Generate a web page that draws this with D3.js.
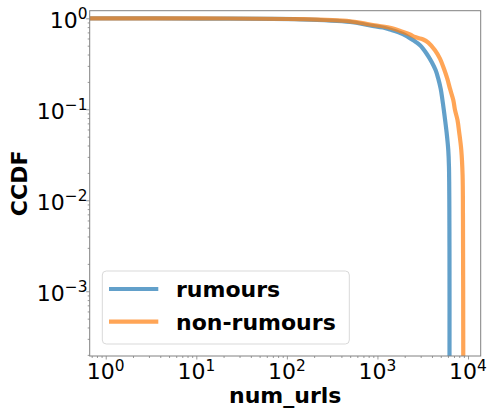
<!DOCTYPE html>
<html>
<head>
<meta charset="utf-8">
<script src="https://cdn.jsdelivr.net/npm/d3@7"></script>
<style>
  html, body { margin: 0; padding: 0; background: #fff; }
  svg { display: block; font-family: "DejaVu Sans", sans-serif; }
</style>
</head>
<body>
<svg id="chart" width="491" height="411"></svg>
<script>
// CCDF of the number of URLs, rumours vs non-rumours
const rumoursX = [0.67, 11, 140, 500, 830, 1150, 1375, 1910, 2490, 2950, 3495, 3969, 4395, 4694, 4989, 5195, 5495, 5812, 6053, 6162, 6241, 6245];
const rumoursY = [1.0, 0.992, 0.975, 0.913, 0.834, 0.792, 0.753, 0.672, 0.573, 0.505, 0.408, 0.331, 0.268, 0.217, 0.1684, 0.1307, 0.0866, 0.0549, 0.0357, 0.0232, 0.00284, 0.00015];

const nonRumoursX = [0.67, 11, 140, 500, 830, 1375, 1930, 2287, 2596, 2876, 3198, 3640, 4316, 4900, 5426, 5902, 6321, 6875, 7176, 7646, 8006, 8424, 8709, 8797, 8864];
const nonRumoursY = [1.0, 0.997, 0.980, 0.927, 0.855, 0.788, 0.707, 0.664, 0.623, 0.605, 0.585, 0.539, 0.445, 0.360, 0.279, 0.217, 0.1684, 0.1265, 0.0984, 0.0763, 0.0549, 0.0357, 0.0190, 0.00608, 0.00015];

const seriesNames = ["rumours", "non-rumours"];
const seriesColors = ["#1f77b4", "#ff7f0e"];
const xTickExps = [0, 1, 2, 3, 4];
const yTickExps = [-3, -2, -1, 0];
const xLabel = "num_urls";
const yLabel = "CCDF";

const svg = d3.select("#chart");
const plot = { left: 89.7, right: 480.7, top: 10.7, bottom: 356 };

const x = d3.scaleLog()
  .domain([Math.pow(10, -0.177), Math.pow(10, 4.14)])
  .range([plot.left, plot.right]);
const y = d3.scaleLog()
  .domain([Math.pow(10, -3.7115), Math.pow(10, 0.0835)])
  .range([plot.bottom, plot.top]);

const axisColor = "#808080";

// minor ticks at 2..9 x 10^k inside the domain
function minorTicks(scale) {
  const [a, b] = scale.domain();
  const out = [];
  for (let e = Math.floor(Math.log10(a)); e <= Math.ceil(Math.log10(b)); e++) {
    for (let m = 2; m <= 9; m++) {
      const v = m * Math.pow(10, e);
      if (v >= a && v <= b) out.push(v);
    }
  }
  return out;
}

const defs = svg.append("defs");
defs.append("clipPath").attr("id", "plotClip")
  .append("rect")
  .attr("x", plot.left).attr("y", plot.top)
  .attr("width", plot.right - plot.left).attr("height", plot.bottom - plot.top);

// axes ticks
const gx = svg.append("g").attr("transform", `translate(0,${plot.bottom})`);
gx.call(d3.axisBottom(x).tickValues(xTickExps.map(e => Math.pow(10, e))).tickSize(3.5).tickSizeOuter(0).tickFormat(""));
gx.call(g => g.append("g").call(d3.axisBottom(x).tickValues(minorTicks(x)).tickSize(2).tickSizeOuter(0).tickFormat("")));
const gy = svg.append("g").attr("transform", `translate(${plot.left},0)`);
gy.call(d3.axisLeft(y).tickValues(yTickExps.map(e => Math.pow(10, e))).tickSize(3.5).tickSizeOuter(0).tickFormat(""));
gy.call(g => g.append("g").call(d3.axisLeft(y).tickValues(minorTicks(y)).tickSize(2).tickSizeOuter(0).tickFormat("")));
svg.selectAll(".domain").remove();
svg.selectAll(".tick line").attr("stroke", axisColor).attr("stroke-width", 0.8);

// tick labels as 10 with superscript exponent
const fmtExp = e => (e < 0 ? "\u2212" + Math.abs(e) : String(e));
xTickExps.forEach(e => {
  const t = svg.append("text")
    .attr("x", x(Math.pow(10, e)))
    .attr("y", 379)
    .attr("text-anchor", "middle")
    .attr("font-size", 22)
    .attr("fill", "#000");
  t.append("tspan").text("10");
  t.append("tspan").attr("font-size", 15.4).attr("dy", -8.5).text(fmtExp(e));
});
yTickExps.forEach(e => {
  const t = svg.append("text")
    .attr("x", 87.5)
    .attr("y", y(Math.pow(10, e)) + 9.5)
    .attr("text-anchor", "end")
    .attr("font-size", 22)
    .attr("fill", "#000");
  t.append("tspan").text("10");
  t.append("tspan").attr("font-size", 15.4).attr("dy", -8.5).text(fmtExp(e));
});

// curves
const line = d3.line()
  .x(d => x(d[0]))
  .y(d => y(d[1]))
  .curve(d3.curveCatmullRom.alpha(0.5));
const series = [
  d3.zip(rumoursX, rumoursY),
  d3.zip(nonRumoursX, nonRumoursY)
];
const lines = svg.append("g").attr("clip-path", "url(#plotClip)");
series.forEach((pts, i) => {
  lines.append("path")
    .attr("d", line(pts))
    .attr("fill", "none")
    .attr("stroke", seriesColors[i])
    .attr("stroke-opacity", 0.7)
    .attr("stroke-width", 4.2)
    .attr("stroke-linejoin", "round");
});

// frame
svg.append("rect")
  .attr("x", plot.left).attr("y", plot.top)
  .attr("width", plot.right - plot.left).attr("height", plot.bottom - plot.top)
  .attr("fill", "none").attr("stroke", axisColor).attr("stroke-width", 1);

// axis titles
svg.append("text")
  .attr("x", (plot.left + plot.right) / 2).attr("y", 403)
  .attr("text-anchor", "middle").attr("font-size", 22).attr("font-weight", "bold")
  .text(xLabel);
svg.append("text")
  .attr("transform", `translate(27,${(plot.top + plot.bottom) / 2}) rotate(-90)`)
  .attr("text-anchor", "middle").attr("font-size", 22).attr("font-weight", "bold")
  .text(yLabel);

// legend
const lg = svg.append("g");
lg.append("rect")
  .attr("x", 102.3).attr("y", 271).attr("width", 247).attr("height", 73).attr("rx", 4)
  .attr("fill", "#fff").attr("fill-opacity", 0.8)
  .attr("stroke", "#d9d9d9").attr("stroke-width", 1);
const legendRows = [289, 321.7];
seriesNames.forEach((name, i) => {
  lg.append("line")
    .attr("x1", 109).attr("x2", 158.3)
    .attr("y1", legendRows[i]).attr("y2", legendRows[i])
    .attr("stroke", seriesColors[i]).attr("stroke-opacity", 0.7).attr("stroke-width", 4.2);
  lg.append("text")
    .attr("x", 176).attr("y", legendRows[i] + 7.8)
    .attr("font-size", 22).attr("font-weight", "bold")
    .text(name);
});
</script>
</body>
</html>
